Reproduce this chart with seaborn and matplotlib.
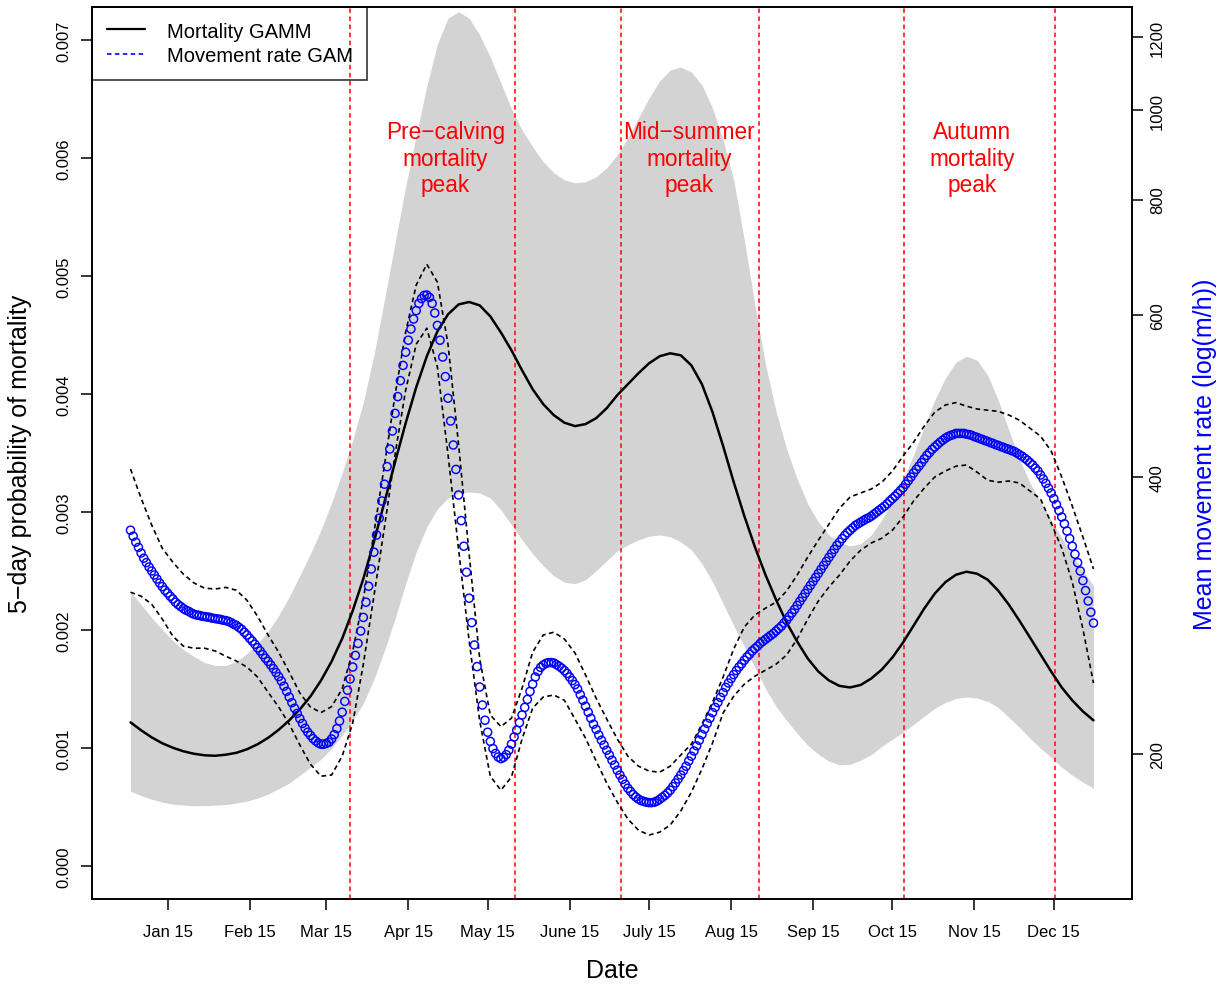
import numpy as np
import pandas as pd
import matplotlib
matplotlib.use("Agg")
import matplotlib.pyplot as plt
from matplotlib.lines import Line2D
import seaborn as sns

# ---------------- data ----------------
# day of year (leap year), 4-day grid for curves and bands
grid_days = list(range(1, 366, 4))

# 5-day probability of mortality: GAMM fit and 95% band
mort_fit = [
    0.001217, 0.001150, 0.001090, 0.001040, 0.001002, 0.000972, 0.000951, 0.000938, 0.000934, 0.000943,
    0.000959, 0.000989, 0.001031, 0.001086, 0.001154, 0.001234, 0.001327, 0.001437, 0.001572, 0.001733,
    0.001927, 0.002164, 0.002434, 0.002747, 0.003085, 0.003423, 0.003753, 0.004058, 0.004320, 0.004531,
    0.004675, 0.004759, 0.004780, 0.004751, 0.004658, 0.004522, 0.004370, 0.004201, 0.004041, 0.003914,
    0.003821, 0.003757, 0.003728, 0.003745, 0.003795, 0.003880, 0.003990, 0.004083, 0.004176, 0.004260,
    0.004320, 0.004345, 0.004328, 0.004243, 0.004083, 0.003846, 0.003559, 0.003254, 0.002967, 0.002705,
    0.002468, 0.002257, 0.002063, 0.001902, 0.001758, 0.001648, 0.001572, 0.001526, 0.001513, 0.001534,
    0.001589, 0.001665, 0.001767, 0.001893, 0.002037, 0.002181, 0.002308, 0.002405, 0.002468, 0.002494,
    0.002477, 0.002426, 0.002333, 0.002215, 0.002079, 0.001936, 0.001792, 0.001648, 0.001513, 0.001403,
    0.001310, 0.001234]
mort_hi = [
    0.002325, 0.002215, 0.002105, 0.002003, 0.001910, 0.001834, 0.001775, 0.001724, 0.001699, 0.001699,
    0.001733, 0.001800, 0.001885, 0.001986, 0.002122, 0.002282, 0.002460, 0.002646, 0.002849, 0.003077,
    0.003331, 0.003609, 0.003931, 0.004328, 0.004801, 0.005283, 0.005757, 0.006196, 0.006610, 0.006965,
    0.007185, 0.007240, 0.007185, 0.007041, 0.006855, 0.006636, 0.006416, 0.006238, 0.006095, 0.005968,
    0.005875, 0.005816, 0.005790, 0.005799, 0.005841, 0.005917, 0.006027, 0.006171, 0.006340, 0.006509,
    0.006653, 0.006746, 0.006771, 0.006729, 0.006619, 0.006424, 0.006154, 0.005816, 0.005308, 0.004759,
    0.004252, 0.003855, 0.003533, 0.003280, 0.003068, 0.002916, 0.002806, 0.002739, 0.002713, 0.002730,
    0.002806, 0.002933, 0.003094, 0.003271, 0.003483, 0.003719, 0.003948, 0.004134, 0.004269, 0.004320,
    0.004286, 0.004159, 0.003948, 0.003694, 0.003449, 0.003246, 0.003085, 0.002933, 0.002781, 0.002637,
    0.002502, 0.002375]
mort_lo = [
    0.000634, 0.000596, 0.000566, 0.000541, 0.000524, 0.000516, 0.000511, 0.000511, 0.000516, 0.000520,
    0.000533, 0.000549, 0.000575, 0.000609, 0.000655, 0.000702, 0.000769, 0.000837, 0.000904, 0.000997,
    0.001107, 0.001234, 0.001378, 0.001581, 0.001826, 0.002096, 0.002392, 0.002663, 0.002874, 0.003026,
    0.003119, 0.003161, 0.003170, 0.003161, 0.003119, 0.003018, 0.002891, 0.002764, 0.002646, 0.002544,
    0.002460, 0.002405, 0.002392, 0.002426, 0.002502, 0.002587, 0.002671, 0.002722, 0.002764, 0.002794,
    0.002806, 0.002790, 0.002747, 0.002680, 0.002561, 0.002409, 0.002223, 0.002037, 0.001860, 0.001682,
    0.001505, 0.001353, 0.001234, 0.001124, 0.001023, 0.000947, 0.000888, 0.000858, 0.000862, 0.000896,
    0.000943, 0.001014, 0.001074, 0.001133, 0.001200, 0.001268, 0.001336, 0.001386, 0.001420, 0.001433,
    0.001424, 0.001395, 0.001344, 0.001260, 0.001175, 0.001082, 0.000997, 0.000921, 0.000837, 0.000769,
    0.000710, 0.000659]

# movement rate GAM, log(m/h): band on the 4-day grid
move_hi_log = [
    6.011, 5.938, 5.871, 5.813, 5.778, 5.748, 5.726, 5.713, 5.711, 5.715,
    5.708, 5.683, 5.643, 5.596, 5.553, 5.503, 5.451, 5.416, 5.402, 5.417,
    5.461, 5.556, 5.686, 5.851, 6.021, 6.196, 6.353, 6.471, 6.523, 6.478,
    6.323, 6.073, 5.798, 5.536, 5.396, 5.367, 5.388, 5.463, 5.553, 5.596,
    5.603, 5.586, 5.551, 5.496, 5.438, 5.386, 5.336, 5.293, 5.268, 5.256,
    5.253, 5.268, 5.296, 5.323, 5.373, 5.428, 5.491, 5.561, 5.616, 5.646,
    5.663, 5.678, 5.706, 5.746, 5.791, 5.833, 5.873, 5.913, 5.941, 5.951,
    5.961, 5.978, 6.006, 6.043, 6.078, 6.118, 6.153, 6.171, 6.177, 6.168,
    6.161, 6.158, 6.155, 6.146, 6.133, 6.113, 6.093, 6.056, 5.991, 5.918,
    5.841, 5.761]
move_lo_log = [
    5.703, 5.693, 5.673, 5.636, 5.593, 5.568, 5.563, 5.563, 5.556, 5.543,
    5.531, 5.516, 5.491, 5.453, 5.416, 5.373, 5.321, 5.273, 5.243, 5.246,
    5.293, 5.376, 5.523, 5.693, 5.866, 6.048, 6.208, 6.323, 6.363, 6.266,
    6.048, 5.811, 5.581, 5.381, 5.243, 5.208, 5.241, 5.336, 5.413, 5.441,
    5.446, 5.433, 5.386, 5.338, 5.281, 5.226, 5.178, 5.136, 5.108, 5.096,
    5.103, 5.121, 5.156, 5.203, 5.261, 5.326, 5.401, 5.443, 5.473, 5.493,
    5.508, 5.523, 5.546, 5.586, 5.636, 5.681, 5.716, 5.746, 5.781, 5.808,
    5.826, 5.838, 5.858, 5.891, 5.931, 5.963, 5.991, 6.006, 6.018, 6.021,
    6.003, 5.983, 5.978, 5.981, 5.976, 5.956, 5.936, 5.876, 5.813, 5.728,
    5.611, 5.476]

# daily movement rate fit, log(m/h), days 1..365
move_days = list(range(1, 366))
move_fit_log = [
    5.858, 5.843, 5.828, 5.815, 5.801, 5.788, 5.777, 5.766, 5.756, 5.746,
    5.736, 5.726, 5.717, 5.708, 5.701, 5.693, 5.686, 5.678, 5.672, 5.667,
    5.662, 5.658, 5.655, 5.651, 5.648, 5.646, 5.645, 5.643, 5.642, 5.641,
    5.640, 5.638, 5.637, 5.636, 5.635, 5.633, 5.632, 5.630, 5.627, 5.623,
    5.620, 5.615, 5.610, 5.603, 5.596, 5.588, 5.581, 5.573, 5.564, 5.556,
    5.547, 5.538, 5.530, 5.521, 5.512, 5.502, 5.492, 5.481, 5.468, 5.455,
    5.441, 5.427, 5.413, 5.400, 5.387, 5.375, 5.363, 5.353, 5.345, 5.337,
    5.331, 5.326, 5.323, 5.323, 5.325, 5.328, 5.336, 5.347, 5.362, 5.381,
    5.403, 5.430, 5.458, 5.486, 5.516, 5.545, 5.575, 5.606, 5.640, 5.678,
    5.718, 5.761, 5.803, 5.846, 5.888, 5.931, 5.973, 6.017, 6.061, 6.106,
    6.150, 6.192, 6.232, 6.270, 6.303, 6.333, 6.361, 6.386, 6.407, 6.425,
    6.437, 6.445, 6.446, 6.440, 6.425, 6.401, 6.370, 6.333, 6.291, 6.242,
    6.188, 6.131, 6.071, 6.010, 5.946, 5.882, 5.818, 5.753, 5.688, 5.627,
    5.571, 5.517, 5.466, 5.421, 5.383, 5.353, 5.330, 5.312, 5.300, 5.291,
    5.287, 5.290, 5.297, 5.308, 5.323, 5.341, 5.358, 5.377, 5.396, 5.415,
    5.435, 5.455, 5.473, 5.491, 5.505, 5.515, 5.521, 5.525, 5.527, 5.527,
    5.526, 5.522, 5.518, 5.513, 5.507, 5.500, 5.491, 5.482, 5.472, 5.461,
    5.447, 5.433, 5.418, 5.403, 5.388, 5.373, 5.360, 5.346, 5.333, 5.321,
    5.308, 5.296, 5.283, 5.271, 5.258, 5.246, 5.235, 5.223, 5.213, 5.205,
    5.197, 5.191, 5.186, 5.182, 5.180, 5.178, 5.177, 5.177, 5.178, 5.181,
    5.185, 5.190, 5.195, 5.201, 5.208, 5.217, 5.226, 5.236, 5.246, 5.257,
    5.268, 5.281, 5.293, 5.306, 5.319, 5.333, 5.347, 5.361, 5.375, 5.388,
    5.402, 5.415, 5.427, 5.440, 5.452, 5.465, 5.476, 5.487, 5.497, 5.507,
    5.516, 5.524, 5.533, 5.541, 5.548, 5.556, 5.562, 5.568, 5.575, 5.580,
    5.585, 5.590, 5.595, 5.600, 5.606, 5.612, 5.618, 5.626, 5.633, 5.642,
    5.651, 5.660, 5.670, 5.680, 5.690, 5.700, 5.710, 5.720, 5.730, 5.740,
    5.750, 5.760, 5.770, 5.780, 5.790, 5.800, 5.810, 5.820, 5.828, 5.837,
    5.845, 5.852, 5.858, 5.864, 5.870, 5.874, 5.878, 5.882, 5.886, 5.889,
    5.893, 5.898, 5.903, 5.908, 5.913, 5.918, 5.924, 5.931, 5.937, 5.943,
    5.950, 5.957, 5.964, 5.973, 5.982, 5.991, 6.001, 6.010, 6.018, 6.027,
    6.036, 6.045, 6.052, 6.060, 6.066, 6.072, 6.078, 6.083, 6.088, 6.092,
    6.095, 6.097, 6.100, 6.100, 6.100, 6.100, 6.098, 6.097, 6.095, 6.092,
    6.090, 6.087, 6.085, 6.082, 6.080, 6.077, 6.075, 6.072, 6.070, 6.067,
    6.065, 6.062, 6.060, 6.057, 6.055, 6.051, 6.047, 6.043, 6.038, 6.033,
    6.027, 6.021, 6.013, 6.006, 5.996, 5.986, 5.975, 5.963, 5.951, 5.937,
    5.922, 5.907, 5.891, 5.874, 5.856, 5.837, 5.818, 5.798, 5.777, 5.756,
    5.732, 5.707, 5.681, 5.653, 5.626]

tick_days = [15, 46, 75, 106, 136, 167, 197, 228, 259, 289, 320, 350]
tick_labels = ["Jan 15", "Feb 15", "Mar 15", "Apr 15", "May 15", "June 15",
               "July 15", "Aug 15", "Sep 15", "Oct 15", "Nov 15", "Dec 15"]
mort_ticks = [0.000, 0.001, 0.002, 0.003, 0.004, 0.005, 0.006, 0.007]
rate_ticks = [200, 400, 600, 800, 1000, 1200]
period_bounds = [84, 146.5, 186.5, 238.5, 293.5, 350.5]
peak_days = [120, 212, 319]
peak_level = 0.006
peak_texts = ["Pre\u2212calving\nmortality\npeak",
              "Mid\u2212summer\nmortality\npeak",
              "Autumn\nmortality\npeak"]

assert len(mort_fit) == len(mort_hi) == len(mort_lo) == len(grid_days)
assert len(move_hi_log) == len(move_lo_log) == len(grid_days)
assert len(move_fit_log) == len(move_days)

# ---------------- plotting ----------------
sns.set_theme(style="white")
plt.rcParams["font.family"] = ["Liberation Sans", "DejaVu Sans"]
plt.rcParams["lines.scale_dashes"] = False
plt.rcParams["axes.unicode_minus"] = True

W, H = 1225, 987
fig = plt.figure(figsize=(W / 100, H / 100), dpi=100)
fig.patch.set_facecolor("white")
ax = fig.add_axes([92 / W, 87 / H, 1040 / W, 892 / H])

grid = pd.DataFrame({"day": grid_days, "fit": mort_fit, "lo": mort_lo, "hi": mort_hi,
                     "mlo": move_lo_log, "mhi": move_hi_log})
daily = pd.DataFrame({"day": move_days, "rate": move_fit_log})

ax.fill_between(grid["day"], grid["lo"], grid["hi"], color="#d3d3d3", lw=0, zorder=1)
for d in period_bounds:
    ax.axvline(d, color="red", lw=1.1, ls=(0, (3.2, 2.6)), zorder=2)
sns.lineplot(data=grid, x="day", y="fit", ax=ax, color="black", lw=1.8, zorder=3)

for d, t in zip(peak_days, peak_texts):
    ax.text(d, peak_level, t, color="red", ha="center", va="center",
            fontsize=16.3, linespacing=1.2, zorder=5)

ax.set_xlim(-13.56, 379.56)
ax.set_ylim(-0.00028, 0.00728)
ax.set_xticks(tick_days)
ax.set_xticklabels(tick_labels, fontsize=12)
ax.set_yticks(mort_ticks)
ax.set_yticklabels([f"{v:.3f}" for v in mort_ticks], fontsize=12, rotation=90, va="center")
ax.tick_params(axis="x", direction="out", length=8, width=1.1, pad=10, colors="black", bottom=True)
ax.tick_params(axis="y", direction="out", length=8, width=1.1, pad=6.5, colors="black", left=True)
ax.set_xlabel("Date", fontsize=18, color="black")
ax.xaxis.set_label_coords(0.5, -0.0795)
ax.xaxis.label.set_va("center")
ax.set_ylabel("5\u2212day probability of mortality", fontsize=18, color="black")
ax.yaxis.set_label_coords(-0.0692, 0.5)
ax.yaxis.label.set_va("center")

ax2 = ax.twinx()
sns.lineplot(data=grid, x="day", y="mhi", ax=ax2, color="black", lw=1.2)
ax2.lines[-1].set_linestyle((0, (3.4, 2.5)))
sns.lineplot(data=grid, x="day", y="mlo", ax=ax2, color="black", lw=1.2)
ax2.lines[-1].set_linestyle((0, (3.4, 2.5)))
sns.scatterplot(data=daily, x="day", y="rate", ax=ax2, marker="o", s=34, zorder=4)
pts = ax2.collections[-1]
pts.set_facecolor("none")
pts.set_edgecolor("blue")
pts.set_linewidth(1.05)

ax2.set_xlim(-13.56, 379.56)
ax2.set_ylim(4.936, 7.166)
ax2.set_yticks(np.log(rate_ticks))
ax2.set_yticklabels([str(v) for v in rate_ticks], fontsize=12, rotation=90, va="center")
ax2.tick_params(axis="y", direction="out", length=8, width=1.1, pad=5, colors="black", right=True)
ax2.set_ylabel("Mean movement rate (log(m/h))", fontsize=18, color="blue")
ax2.yaxis.set_label_coords(1.0705, 0.5)
ax2.yaxis.label.set_va("center")
ax2.yaxis.label.set_rotation(90)

for a in (ax, ax2):
    for s in a.spines.values():
        s.set_color("black")
        s.set_linewidth(1.2)

handles = [Line2D([0], [0], color="black", lw=1.6),
           Line2D([0], [0], color="blue", lw=1.2, ls=(0, (3.2, 2.5)))]
leg = ax2.legend(handles, ["Mortality GAMM", "Movement rate GAM"], loc="upper left",
                 bbox_to_anchor=(0, 1), borderaxespad=0, fontsize=14.5, frameon=True,
                 fancybox=False, edgecolor="black", facecolor="none",
                 handlelength=1.9, handletextpad=1.1, borderpad=0.72, labelspacing=0.28)
leg.get_frame().set_linewidth(1.2)
for t in leg.get_texts():
    t.set_color("black")

fig.savefig("out.png", dpi=100, facecolor="white")
